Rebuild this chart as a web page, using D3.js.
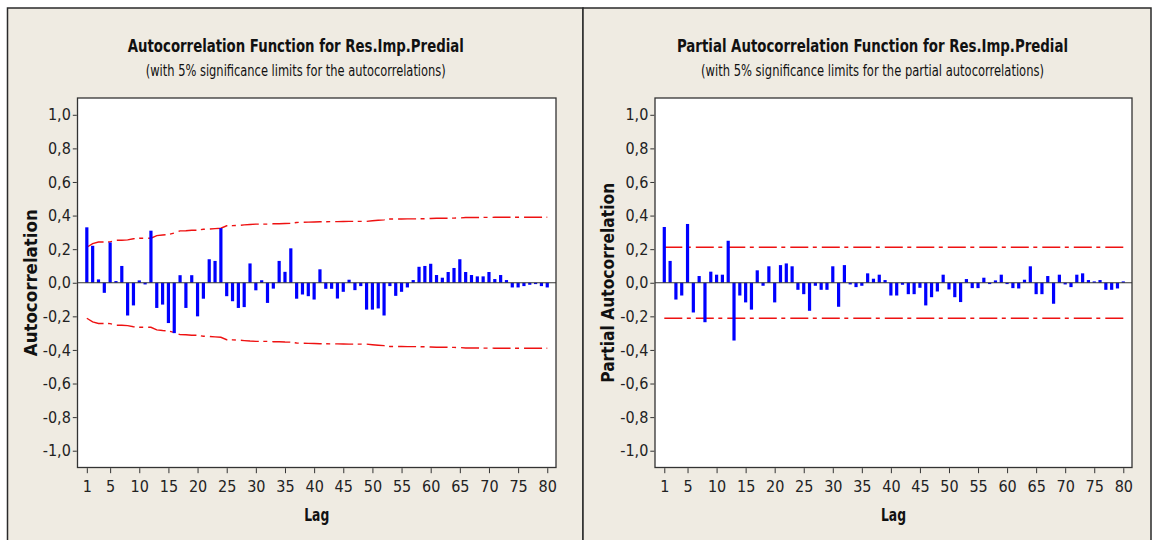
<!DOCTYPE html>
<html>
<head>
<meta charset="utf-8">
<script src="https://cdn.jsdelivr.net/npm/d3@7"></script>
<style>
  body { margin: 0; background: #ffffff; }
  svg { display: block; }
</style>
</head>
<body>
<svg id="chart" width="1155" height="540"></svg>
<script>
// Sample autocorrelations of Res.Imp.Predial, lags 1..80
const acfValues = [
  0.33, 0.22, 0.02, -0.06, 0.24, 0.01, 0.10, -0.195, -0.135, 0.014,
  -0.01, 0.31, -0.15, -0.13, -0.24, -0.30, 0.045, -0.15, 0.045, -0.20,
  -0.095, 0.14, 0.13, 0.325, -0.08, -0.11, -0.15, -0.145, 0.115, -0.045,
  0.015, -0.12, -0.035, 0.13, 0.065, 0.205, -0.095, -0.07, -0.08, -0.10,
  0.08, -0.036, -0.036, -0.094, -0.054, 0.018, -0.044, -0.02, -0.16, -0.16,
  -0.153, -0.195, -0.02, -0.078, -0.054, -0.028, 0.016, 0.095, 0.10, 0.113,
  0.046, 0.03, 0.064, 0.088, 0.14, 0.064, 0.046, 0.038, 0.038, 0.064,
  0.022, 0.046, 0.016, -0.028, -0.028, -0.02, -0.012, -0.008, -0.02, -0.028
];

// Sample partial autocorrelations, lags 1..80
const pacfValues = [
  0.332, 0.13, -0.10, -0.076, 0.35, -0.177, 0.04, -0.235, 0.066, 0.048,
  0.048, 0.25, -0.344, -0.076, -0.117, -0.16, 0.074, -0.018, 0.098, -0.117,
  0.105, 0.115, 0.098, -0.042, -0.068, -0.167, -0.018, -0.042, -0.042, 0.098,
  -0.143, 0.105, -0.01, -0.026, -0.018, 0.056, 0.024, 0.048, 0.016, -0.076,
  -0.076, -0.012, -0.068, -0.068, -0.03, -0.135, -0.086, -0.052, 0.048, -0.04,
  -0.086, -0.115, 0.022, -0.032, -0.032, 0.03, -0.008, 0.014, 0.048, -0.008,
  -0.032, -0.034, 0.018, 0.098, -0.068, -0.068, 0.04, -0.125, 0.048, -0.01,
  -0.026, 0.048, 0.056, 0.016, 0.008, 0.016, -0.042, -0.042, -0.034, 0.008
];

const xTickLags = [1, 5, 10, 15, 20, 25, 30, 35, 40, 45, 50, 55, 60, 65, 70, 75, 80];
const yTickValues = [-1.0, -0.8, -0.6, -0.4, -0.2, 0.0, 0.2, 0.4, 0.6, 0.8, 1.0];

// Number of observations in the series and the 5% normal quantile
const sampleSize = 86;
const zCrit = 1.96;

// Bartlett's approximation: limit at lag k uses the squared ACF of lags < k
function bartlettLimits(r) {
  let sumSq = 0;
  return r.map(v => {
    const lim = zCrit * Math.sqrt((1 + 2 * sumSq) / sampleSize);
    sumSq += v * v;
    return lim;
  });
}
const acfLimits = bartlettLimits(acfValues);
const pacfLimits = pacfValues.map(() => zCrit / Math.sqrt(sampleSize));

const fmt = d3.formatLocale({
  decimal: ",", thousands: ".", grouping: [3], currency: ["", ""], minus: "-"
}).format(".1f");

const FONT = "'Liberation Sans Narrow', 'Arial Narrow', 'DejaVu Sans Condensed', sans-serif";

const svg = d3.select("#chart");

const panels = [
  {
    x0: 7.5, x1: 583, plotX0: 77.5, plotX1: 556,
    title: "Autocorrelation Function for Res.Imp.Predial", titleLen: 336,
    subtitle: "(with 5% significance limits for the autocorrelations)", subLen: 300,
    yLabel: "Autocorrelation", yLabelLen: 147, yLabelX: 31,
    values: acfValues, limits: acfLimits
  },
  {
    x0: 583, x1: 1151, plotX0: 655, plotX1: 1132,
    title: "Partial Autocorrelation Function for Res.Imp.Predial", titleLen: 391,
    subtitle: "(with 5% significance limits for the partial autocorrelations)", subLen: 343,
    yLabel: "Partial Autocorrelation", yLabelLen: 200, yLabelX: 608,
    values: pacfValues, limits: pacfLimits
  }
];

const plotY0 = 98, plotY1 = 467.5;

panels.forEach(p => {
  const g = svg.append("g");

  // panel background and frame
  g.append("rect")
    .attr("x", p.x0).attr("y", 8)
    .attr("width", p.x1 - p.x0).attr("height", 560)
    .attr("fill", "#efebe2")
    .attr("stroke", "#2a2a2a").attr("stroke-width", 1.5);

  const x = d3.scaleLinear().domain([-0.6, 81.5]).range([p.plotX0, p.plotX1]);
  const y = d3.scaleLinear().domain([-1.1, 1.1]).range([plotY1, plotY0]);

  const cx = (p.plotX0 + p.plotX1) / 2;

  // titles
  g.append("text")
    .attr("x", cx - 21).attr("y", 52)
    .attr("text-anchor", "middle")
    .attr("font-family", FONT).attr("font-weight", "bold").attr("font-size", 18)
    .attr("textLength", p.titleLen).attr("lengthAdjust", "spacingAndGlyphs")
    .attr("fill", "#111")
    .text(p.title);

  g.append("text")
    .attr("x", cx - 21).attr("y", 76)
    .attr("text-anchor", "middle")
    .attr("font-family", FONT).attr("font-size", 15)
    .attr("textLength", p.subLen).attr("lengthAdjust", "spacingAndGlyphs")
    .attr("fill", "#111")
    .text(p.subtitle);

  // plot area
  g.append("rect")
    .attr("x", p.plotX0).attr("y", plotY0)
    .attr("width", p.plotX1 - p.plotX0).attr("height", plotY1 - plotY0)
    .attr("fill", "#ffffff");

  // significance limits
  const line = d3.line().x((d, i) => x(i + 1)).y(d => y(d));
  [1, -1].forEach(sign => {
    g.append("path")
      .datum(p.limits.map(v => sign * v))
      .attr("d", line)
      .attr("fill", "none")
      .attr("stroke", "#ee1111")
      .attr("stroke-width", 1.4)
      .attr("stroke-dasharray", "18,4.5,4,5");
  });

  // correlation bars
  g.append("g").selectAll("rect")
    .data(p.values)
    .join("rect")
    .attr("x", (d, i) => x(i + 1) - 1.6)
    .attr("width", 3.2)
    .attr("y", d => y(Math.max(0, d)))
    .attr("height", d => Math.abs(y(d) - y(0)))
    .attr("fill", "#0000ff");

  // zero reference
  g.append("line")
    .attr("x1", p.plotX0).attr("x2", p.plotX1)
    .attr("y1", y(0)).attr("y2", y(0))
    .attr("stroke", "#333333").attr("stroke-width", 1.2);

  // frame of the plot area
  g.append("rect")
    .attr("x", p.plotX0).attr("y", plotY0)
    .attr("width", p.plotX1 - p.plotX0).attr("height", plotY1 - plotY0)
    .attr("fill", "none")
    .attr("stroke", "#333333").attr("stroke-width", 1.3);

  // axes
  const xAxis = g.append("g")
    .attr("transform", `translate(0,${plotY1 + 0.7})`)
    .call(d3.axisBottom(x).tickValues(xTickLags).tickSize(5).tickSizeOuter(0).tickPadding(7));
  const yAxis = g.append("g")
    .attr("transform", `translate(${p.plotX0 - 0.7},0)`)
    .call(d3.axisLeft(y).tickValues(yTickValues).tickFormat(fmt).tickSize(4).tickSizeOuter(0).tickPadding(2));

  [xAxis, yAxis].forEach(a => {
    a.select(".domain").remove();
    a.selectAll(".tick line").attr("stroke", "#333333").attr("stroke-width", 1);
    a.selectAll(".tick text")
      .attr("font-family", FONT).attr("font-size", 16).attr("fill", "#222");
  });

  // axis titles
  g.append("text")
    .attr("x", cx).attr("y", 521)
    .attr("text-anchor", "middle")
    .attr("font-family", FONT).attr("font-weight", "bold").attr("font-size", 18)
    .attr("textLength", 25).attr("lengthAdjust", "spacingAndGlyphs")
    .attr("fill", "#111")
    .text("Lag");

  g.append("text")
    .attr("transform", `translate(${p.yLabelX},${(plotY0 + plotY1) / 2}) rotate(-90)`)
    .attr("text-anchor", "middle")
    .attr("dy", "0.35em")
    .attr("font-family", FONT).attr("font-weight", "bold").attr("font-size", 18)
    .attr("textLength", p.yLabelLen).attr("lengthAdjust", "spacingAndGlyphs")
    .attr("fill", "#111")
    .text(p.yLabel);
});
</script>
</body>
</html>
